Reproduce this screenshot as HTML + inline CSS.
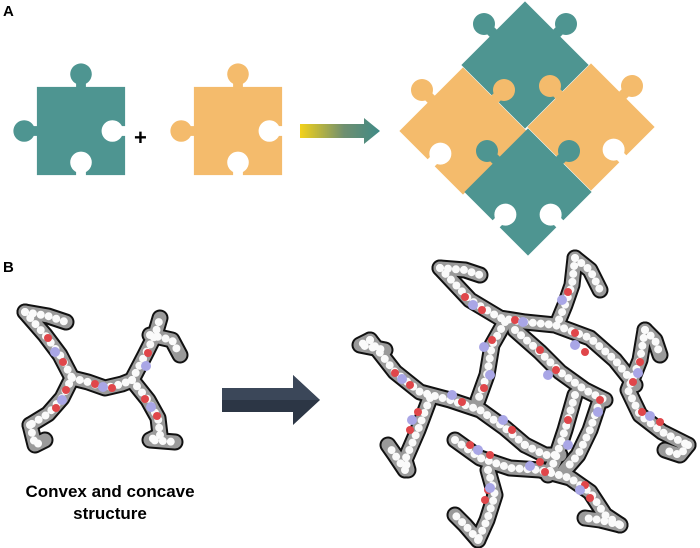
<!DOCTYPE html>
<html><head><meta charset="utf-8"><style>
html,body{margin:0;padding:0;background:#fff;}
svg{display:block;}
text{font-family:"Liberation Sans",Arial,sans-serif;font-weight:bold;fill:#000;}
.k{fill:none;stroke:#111;stroke-width:17;stroke-linecap:round;stroke-linejoin:round;}
.g{fill:none;stroke:#9a9a9a;stroke-width:13;stroke-linecap:round;stroke-linejoin:round;}
.w{fill:none;stroke:#fafafa;stroke-width:8;stroke-linecap:round;stroke-dasharray:0 8;}
.r{fill:#e0464a;}
.b{fill:#a9a6e6;}
</style></head><body>
<svg width="700" height="548" viewBox="0 0 700 548" xmlns="http://www.w3.org/2000/svg">
<defs>
<linearGradient id="ag" x1="0" x2="1" y1="0" y2="0">
<stop offset="0" stop-color="#f3d21a"/><stop offset="0.55" stop-color="#6f8f70"/><stop offset="1" stop-color="#3f8a86"/>
</linearGradient>
<g id="pz">
<rect x="-45" y="-45" width="90" height="90"/>
<rect x="-5" y="-56" width="10" height="14"/>
<circle cx="0" cy="-58" r="11"/>
<rect x="-56" y="-5" width="14" height="10"/>
<circle cx="-58" cy="0" r="11"/>
</g>
<g id="hb">
<rect x="-5" y="36" width="10" height="10"/>
<circle cx="0" cy="32" r="11"/>
</g>
<g id="hr">
<rect x="36" y="-5" width="10" height="10"/>
<circle cx="32" cy="0" r="11"/>
</g>
<g id="arms">
<path d="M25,312 L45,335 L60,355 L72,378 L62,398 L48,414 L30,425"/>
<path d="M72,378 L88,382 L105,388 L122,384 L132,380"/>
<path d="M132,380 L145,355 L155,335 L160,318"/>
<path d="M132,380 L148,400 L158,418 L160,435"/>
<path d="M25,312 L48,316 L66,322"/>
<path d="M150,335 L172,340 L180,355"/>
<path d="M30,425 L35,445 L45,440"/>
<path d="M160,435 L150,440 L175,442"/>
</g>
<g id="net">
<path d="M440,268 L470,300 L500,318 L525,322 L555,325 L590,338 L615,360 L635,385"/>
<path d="M575,258 L572,285 L565,305 L558,322"/>
<path d="M505,322 L492,345 L487,375 L478,400"/>
<path d="M370,340 L395,372 L420,392 L450,400 L480,410 L505,428 L525,445"/>
<path d="M430,398 L418,430 L405,460 L408,470"/>
<path d="M515,330 L540,352 L560,372 L585,390 L605,400"/>
<path d="M645,330 L640,360 L628,390 L640,415 L662,432 L688,445"/>
<path d="M575,395 L565,430 L555,460 L548,475"/>
<path d="M455,440 L480,458 L510,468 L540,470 L570,478 L590,492 L605,515 L620,525"/>
<path d="M488,470 L495,495 L487,520 L478,540"/>
<path d="M600,400 L590,430 L578,455 L565,470"/>
<path d="M440,268 L465,270 L480,275"/>
<path d="M575,258 L590,270 L600,290"/>
<path d="M370,340 L360,345 L385,350"/>
<path d="M688,445 L680,455 L665,450"/>
<path d="M478,540 L465,525 L455,515"/>
<path d="M620,525 L600,520 L585,518"/>
<path d="M405,470 L395,455 L388,445"/>
<path d="M645,330 L655,340 L660,355"/>
<path d="M525,445 L545,455 L560,455"/>
</g>
</defs>

<text x="3" y="16" font-size="15">A</text>
<text x="3" y="272" font-size="15">B</text>

<g transform="translate(81,131) scale(0.98)">
<use href="#pz" fill="#4e9591"/>
<use href="#hb" fill="#fff"/><use href="#hr" fill="#fff"/>
</g>
<text x="134" y="145" font-size="22">+</text>
<g transform="translate(238,131) scale(0.98)">
<use href="#pz" fill="#f4bb6c"/>
<use href="#hb" fill="#fff"/><use href="#hr" fill="#fff"/>
</g>
<polygon points="300,124 364,124 364,118 380,131 364,144 364,138 300,138" fill="url(#ag)"/>

<g transform="translate(525,65) rotate(45)"><use href="#pz" fill="#4e9591"/></g>
<g transform="translate(463,131) rotate(45)"><use href="#pz" fill="#f4bb6c"/><use href="#hb" fill="#fff"/></g>
<g transform="translate(591,127) rotate(45)"><use href="#pz" fill="#f4bb6c"/><use href="#hr" fill="#fff"/></g>
<g transform="translate(528,192) rotate(45)"><use href="#pz" fill="#4e9591"/><use href="#hb" fill="#fff"/><use href="#hr" fill="#fff"/></g>

<polygon points="222,388 293,388 293,375 320,400 293,425 293,412 222,412" fill="#2c3645"/>
<polygon points="222,388 293,388 293,375 320,400 222,400" fill="#3b4759"/>

<use href="#arms" class="k"/>
<use href="#arms" class="g"/>
<use href="#arms" class="w"/>
<circle class="r" cx="48" cy="338" r="4"/><circle class="b" cx="55" cy="352" r="5"/><circle class="r" cx="63" cy="362" r="4"/>
<circle class="r" cx="66" cy="390" r="4"/><circle class="b" cx="62" cy="400" r="5"/><circle class="r" cx="56" cy="408" r="4"/>
<circle class="r" cx="95" cy="384" r="4"/><circle class="b" cx="103" cy="387" r="5"/><circle class="r" cx="112" cy="388" r="4"/>
<circle class="r" cx="148" cy="353" r="4"/><circle class="b" cx="146" cy="366" r="5"/>
<circle class="r" cx="145" cy="399" r="4"/><circle class="b" cx="151" cy="407" r="5"/><circle class="r" cx="157" cy="416" r="4"/>

<use href="#net" class="k"/>
<use href="#net" class="g"/>
<use href="#net" class="w"/>
<g>
<circle class="r" cx="465" cy="297" r="4"/><circle class="b" cx="473" cy="305" r="5"/><circle class="r" cx="482" cy="310" r="4"/>
<circle class="r" cx="568" cy="292" r="4"/><circle class="b" cx="562" cy="300" r="5"/>
<circle class="r" cx="515" cy="320" r="4"/><circle class="b" cx="523" cy="322" r="5"/>
<circle class="r" cx="575" cy="333" r="4"/><circle class="b" cx="575" cy="345" r="5"/><circle class="r" cx="585" cy="352" r="4"/>
<circle class="r" cx="492" cy="340" r="4"/><circle class="b" cx="484" cy="347" r="5"/><circle class="b" cx="490" cy="375" r="5"/><circle class="r" cx="484" cy="388" r="4"/>
<circle class="r" cx="395" cy="373" r="4"/><circle class="b" cx="402" cy="379" r="5"/><circle class="r" cx="410" cy="385" r="4"/>
<circle class="b" cx="452" cy="395" r="5"/><circle class="r" cx="462" cy="402" r="4"/><circle class="b" cx="503" cy="420" r="5"/><circle class="r" cx="512" cy="430" r="4"/>
<circle class="r" cx="418" cy="412" r="4"/><circle class="b" cx="412" cy="420" r="5"/><circle class="r" cx="410" cy="430" r="4"/>
<circle class="r" cx="540" cy="350" r="4"/><circle class="b" cx="548" cy="375" r="5"/><circle class="r" cx="556" cy="370" r="4"/>
<circle class="r" cx="640" cy="362" r="4"/><circle class="b" cx="638" cy="373" r="5"/><circle class="r" cx="633" cy="382" r="4"/>
<circle class="r" cx="642" cy="412" r="4"/><circle class="b" cx="650" cy="416" r="5"/><circle class="r" cx="660" cy="422" r="4"/>
<circle class="r" cx="600" cy="400" r="4"/><circle class="b" cx="598" cy="412" r="5"/><circle class="r" cx="568" cy="420" r="4"/><circle class="b" cx="568" cy="445" r="5"/>
<circle class="r" cx="470" cy="445" r="4"/><circle class="b" cx="478" cy="450" r="5"/><circle class="r" cx="490" cy="455" r="4"/>
<circle class="r" cx="540" cy="462" r="4"/><circle class="b" cx="530" cy="466" r="5"/><circle class="r" cx="545" cy="472" r="4"/>
<circle class="r" cx="488" cy="490" r="4"/><circle class="b" cx="490" cy="488" r="5"/><circle class="r" cx="485" cy="500" r="4"/>
<circle class="r" cx="585" cy="485" r="4"/><circle class="b" cx="580" cy="490" r="5"/><circle class="r" cx="590" cy="498" r="4"/>
</g>

<text x="110" y="497" font-size="17" text-anchor="middle">Convex and concave</text>
<text x="110" y="519" font-size="17" text-anchor="middle">structure</text>
</svg>
</body></html>
